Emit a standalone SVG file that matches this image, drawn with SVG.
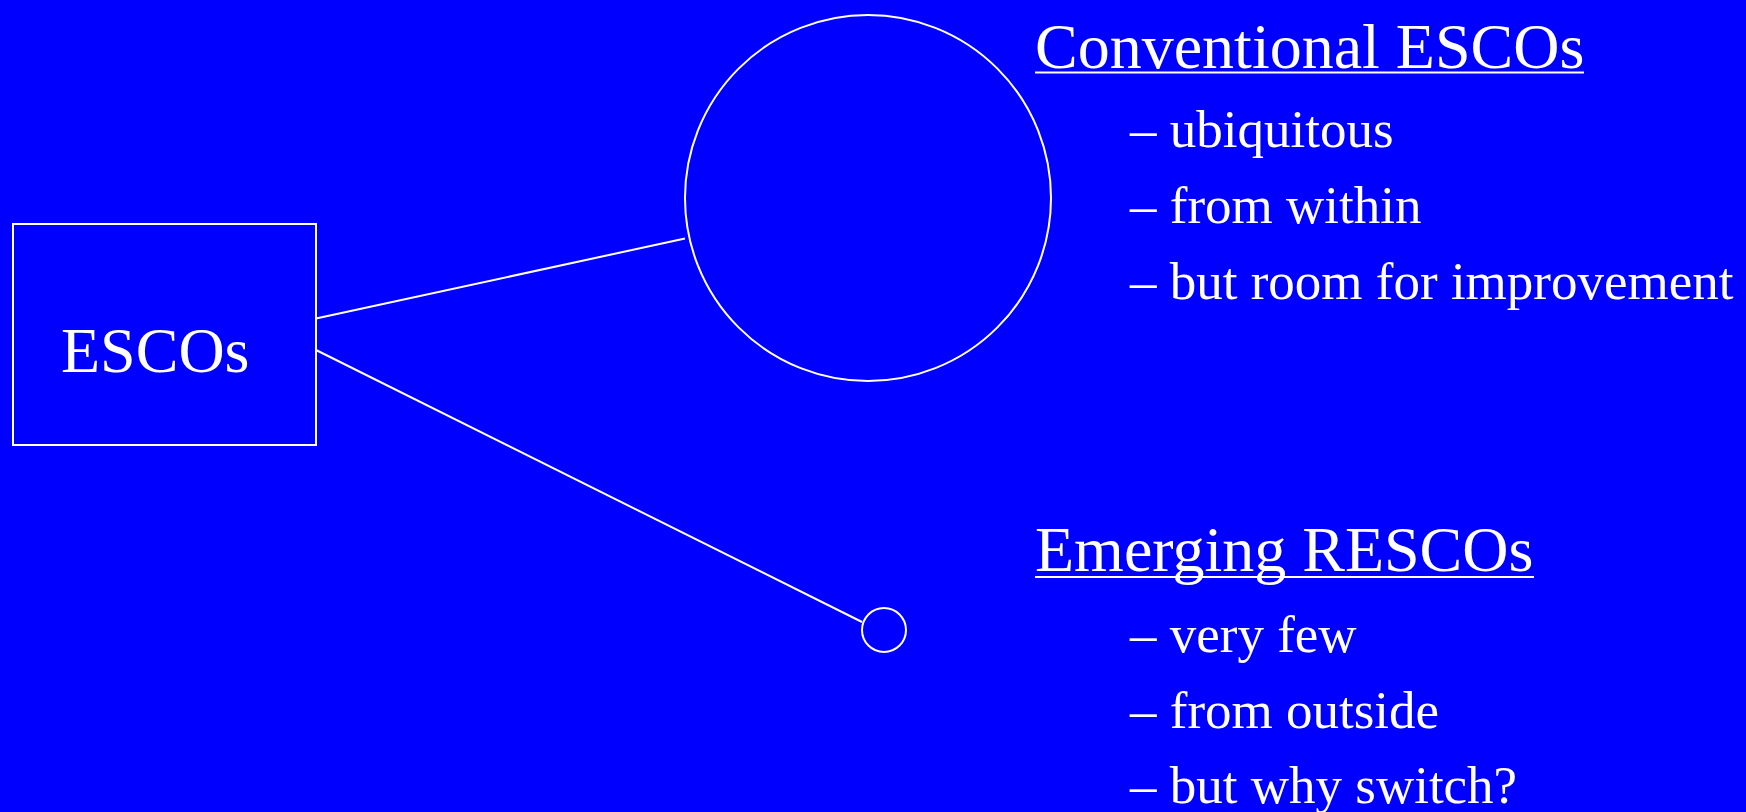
<svg xmlns="http://www.w3.org/2000/svg" width="1746" height="812" viewBox="0 0 1746 812">
<style>
.shape{fill:none;stroke:#fff;stroke-width:2}
.t{font-family:"Liberation Serif","Times New Roman",serif;fill:#fff}
.h{font-size:64px}
.b{font-size:53px}
.ul{stroke:#fff;stroke-width:2}
</style>
<rect width="1746" height="812" fill="#0000FF"/>
<g id="connectors">
<line class="shape" x1="316" y1="318.5" x2="685" y2="238.5"/>
<line class="shape" x1="316" y1="350" x2="862" y2="622"/>
</g>
<g id="node-escos">
<rect class="shape" x="13" y="224" width="303" height="221"/>
<text class="t" x="61" y="372" font-size="64">ESCOs</text>
</g>
<g id="node-conventional">
<circle class="shape" cx="868" cy="198" r="183"/>
</g>
<g id="node-emerging">
<circle class="shape" cx="884" cy="630" r="22"/>
</g>
<g id="label-conventional">
<text class="t h" x="1035" y="68">Conventional ESCOs</text>
<line class="ul" x1="1035" y1="72.5" x2="1584" y2="72.5"/>
<text class="t b" x="1130" y="147">– ubiquitous</text>
<text class="t b" x="1130" y="223">– from within</text>
<text class="t b" x="1130" y="299">– but room for improvement</text>
</g>
<g id="label-emerging">
<text class="t h" x="1035" y="571">Emerging RESCOs</text>
<line class="ul" x1="1035" y1="577" x2="1534" y2="577"/>
<text class="t b" x="1130" y="652">– very few</text>
<text class="t b" x="1130" y="728">– from outside</text>
<text class="t b" x="1130" y="803">– but why switch?</text>
</g>
</svg>
